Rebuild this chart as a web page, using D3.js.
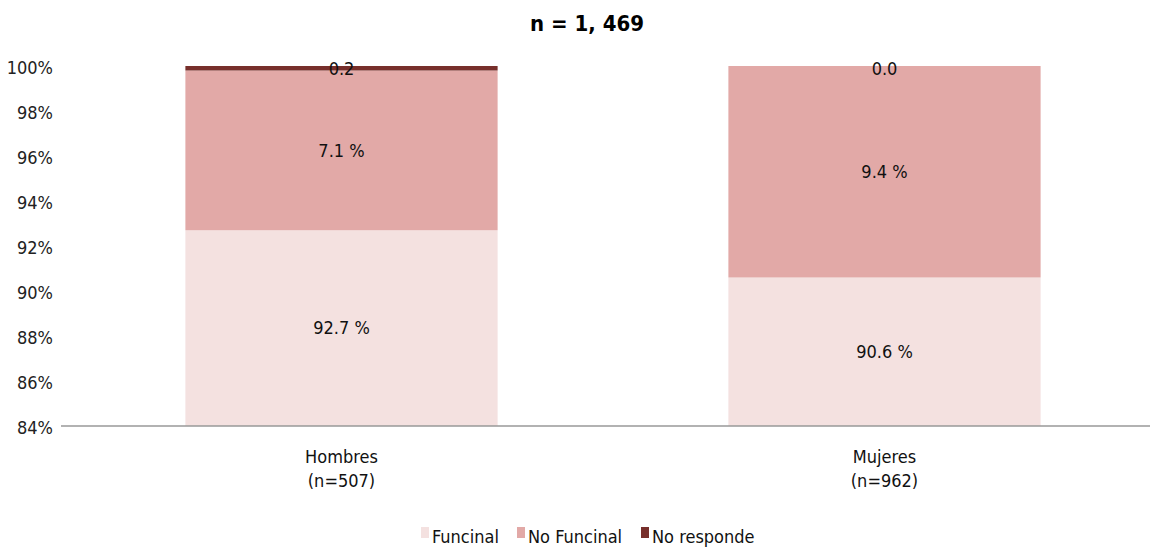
<!DOCTYPE html>
<html><head><meta charset="utf-8">
<script src="https://cdn.jsdelivr.net/npm/d3@7"></script>
<style>body{margin:0;background:#fff}text{font-family:"DejaVu Sans Condensed",sans-serif}</style>
</head><body><svg id="c" width="1150" height="550"></svg>
<script>
const categories = ["Hombres", "Mujeres"];
const catSub = ["(n=507)", "(n=962)"];
const seriesNames = ["Funcinal", "No Funcinal", "No responde"];
const funcional = [92.7, 90.6];
const noFuncional = [7.1, 9.4];
const noResponde = [0.2, 0.0];
const labelsFuncional = ["92.7 %", "90.6 %"];
const labelsNoFuncional = ["7.1 %", "9.4 %"];
const labelsNoResponde = ["0.2", "0.0"];
const yTicks = [84, 86, 88, 90, 92, 94, 96, 98, 100];
const colors = ["#f4e1e0", "#e2a9a7", "#772f2b"];

const svg = d3.select("#c");
const y = d3.scaleLinear().domain([84, 100]).range([426, 66]);
const x = d3.scaleBand().domain(categories).range([70, 1156]).paddingInner(0.425).paddingOuter(0.2125);

const rows = categories.map((c, i) => ({cat: c, v: [funcional[i], noFuncional[i], noResponde[i]],
  l: [labelsFuncional[i], labelsNoFuncional[i], labelsNoResponde[i]]}));

rows.forEach(r => {
  let base = 0;
  r.seg = [];
  r.v.forEach((v, k) => {
    const y0 = Math.max(base, 84), y1 = base + v;
    if (v > 0 && y1 > 84) {
      svg.append("rect").attr("x", x(r.cat)).attr("width", x.bandwidth())
        .attr("y", y(y1)).attr("height", y(y0) - y(y1)).attr("fill", colors[k]);
    }
    r.seg.push([y0, y1]);
    base = y1;
  });
});

// axis line
svg.append("line").attr("x1", 61).attr("x2", 1150).attr("y1", y(84)).attr("y2", y(84))
  .attr("stroke", "#999").attr("stroke-width", 1.5);

// y ticks
const yAxis = d3.axisLeft(y).tickValues(yTicks).tickFormat(d => d + "%").tickSize(0);
const ga = svg.append("g").attr("transform", "translate(56,0)").call(yAxis);
ga.select(".domain").remove();
ga.selectAll("text").attr("font-size", 18).attr("fill", "#222").attr("dy", "0.4em")
  .style("font-family", '"DejaVu Sans Condensed",sans-serif');

// labels
rows.forEach(r => {
  r.seg.forEach((s, k) => {
    let yy;
    if (k === 2) yy = y(100) + 3;
    else yy = (y(s[0]) + y(Math.min(s[1], 100))) / 2;
    svg.append("text").attr("x", x(r.cat) + x.bandwidth() / 2).attr("y", yy)
      .attr("text-anchor", "middle").attr("dy", "0.35em").attr("font-size", 18).attr("fill", "#111")
      .text(r.l[k]);
  });
});

// x labels
categories.forEach((c, i) => {
  const cx = x(c) + x.bandwidth() / 2;
  svg.append("text").attr("x", cx).attr("y", 463).attr("text-anchor", "middle").attr("font-size", 18).attr("fill", "#111").text(c);
  svg.append("text").attr("x", cx).attr("y", 487).attr("text-anchor", "middle").attr("font-size", 18).attr("fill", "#111").text(catSub[i]);
});

// title
svg.append("text").attr("x", 587).attr("y", 31).attr("text-anchor", "middle").attr("font-size", 22)
  .attr("font-weight", "bold").attr("fill", "#000").text("n = 1, 469");

// legend
const legX = [421, 517, 641];
seriesNames.forEach((s, k) => {
  svg.append("rect").attr("x", legX[k]).attr("y", 527).attr("width", 8).attr("height", 11).attr("fill", colors[k]);
  svg.append("text").attr("x", legX[k] + 11).attr("y", 543).attr("font-size", 18).attr("fill", "#111").text(s);
});
</script></body></html>
